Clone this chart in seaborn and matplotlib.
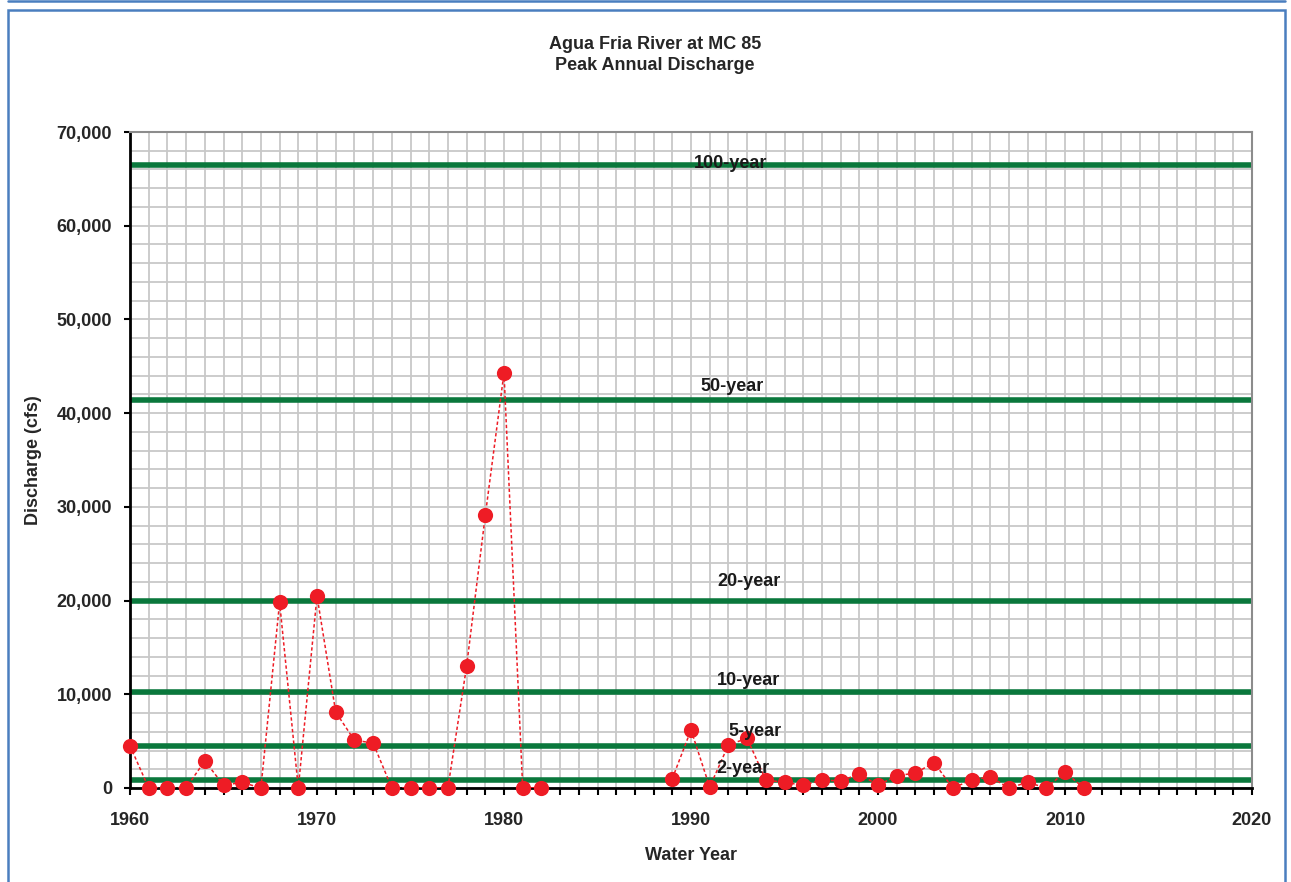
import numpy as np
import pandas as pd
import matplotlib
matplotlib.use("Agg")
import matplotlib.pyplot as plt
import matplotlib.ticker as mticker
from matplotlib.patches import Rectangle
from matplotlib.lines import Line2D
import seaborn as sns

# peak annual discharge (cfs), NaN = no record
years = list(range(1960, 2012))
discharge = [4500, 0, 0, 0, 2900, 300, 600, 0, 19800, 0,
             20500, 8100, 5100, 4800, 0, 0, 0, 0, 13000, 29100,
             44300, 0, 0, np.nan, np.nan, np.nan, np.nan, np.nan, np.nan, 1000,
             6200, 100, 4600, 5300, 850, 600, 300, 850, 750, 1500,
             300, 1300, 1600, 2700, 0, 850, 1200, 0, 600, 0,
             1700, 0]

# flood frequency estimates
return_labels = ["100-year", "50-year", "20-year", "10-year", "5-year", "2-year"]
return_q = [66500, 41400, 20000, 10250, 4500, 850]

df = pd.DataFrame({"year": years, "q": discharge})
df["segment"] = df["q"].isna().cumsum()
df = df.dropna()

sns.set_style("white")
plt.rcParams["font.family"] = ["Liberation Sans", "DejaVu Sans"]
plt.rcParams["font.weight"] = "bold"

fig = plt.figure(figsize=(12.91, 8.82), dpi=100)
ax = fig.add_axes([130 / 1291, 1 - 788 / 882, 1122 / 1291, 656 / 882])

red = "#ee1c25"
green = "#0a783c"

for q in return_q:
    ax.axhline(q, color=green, lw=4, zorder=2)

sns.lineplot(data=df, x="year", y="q", units="segment", estimator=None,
             color=red, lw=1.1, linestyle=(0, (2.2, 1.6)), ax=ax, zorder=3,
             legend=False)
sns.scatterplot(data=df, x="year", y="q", color=red, s=120, edgecolor=red,
                linewidth=0, ax=ax, zorder=4, clip_on=False, legend=False)

# return period labels
lab_x = [1992.1, 1992.2, 1993.1, 1993.1, 1993.4, 1992.8]
lab_dy = [1, 10, 14, 8, 10, 8]
for lab, q, x, dy in zip(return_labels, return_q, lab_x, lab_dy):
    ax.annotate(lab, xy=(x, q), xytext=(0, dy), textcoords="offset points",
                ha="center", va="center", fontsize=13, fontweight="bold",
                color="#1a1a1a", zorder=5)

ax.set_xlim(1960, 2020)
ax.set_ylim(0, 70000)
ax.xaxis.set_major_locator(mticker.MultipleLocator(10))
ax.xaxis.set_minor_locator(mticker.MultipleLocator(1))
ax.yaxis.set_major_locator(mticker.MultipleLocator(10000))
ax.yaxis.set_minor_locator(mticker.MultipleLocator(2000))
ax.yaxis.set_major_formatter(mticker.FuncFormatter(lambda v, p: f"{int(v):,}"))

ax.grid(True, which="both", color="#c8c8c8", lw=1.3, zorder=0)
ax.set_axisbelow(True)

ax.tick_params(axis="x", which="major", direction="out", length=5, width=1.5,
               pad=12, labelsize=13, bottom=True, color="black")
ax.tick_params(axis="x", which="minor", direction="out", length=5, width=1.5,
               bottom=True, color="black")
ax.tick_params(axis="y", which="major", direction="out", length=4, width=1.5,
               pad=9, labelsize=13, left=True, color="black")
ax.tick_params(axis="y", which="minor", left=False)
for t in ax.get_xticklabels() + ax.get_yticklabels():
    t.set_fontweight("bold")

for s in ["left", "bottom"]:
    ax.spines[s].set_color("black")
    ax.spines[s].set_linewidth(2)
for s in ["top", "right"]:
    ax.spines[s].set_color("#8c8c8c")
    ax.spines[s].set_linewidth(1.5)

ax.set_xlabel("Water Year", fontsize=13, fontweight="bold")
ax.set_ylabel("Discharge (cfs)", fontsize=13, fontweight="bold")
ax.xaxis.set_label_coords(0.5, -0.09)
ax.yaxis.set_label_coords(-0.078, 0.5)

fig.text(655 / 1291, 1 - 55 / 882, "Agua Fria River at MC 85\nPeak Annual Discharge",
         ha="center", va="center", fontsize=13, fontweight="bold",
         linespacing=1.25)

# chart frame
blue = "#4a7ebf"
fig.patches.append(Rectangle((8 / 1291, -0.01), 1277 / 1291, 1 - 10 / 882 + 0.01,
                             transform=fig.transFigure, fill=False,
                             edgecolor=blue, lw=1.8))
fig.lines.append(Line2D([8 / 1291, 1285 / 1291], [1 - 1 / 882, 1 - 1 / 882],
                        transform=fig.transFigure, color=blue, lw=1.8))

fig.savefig("out.png", dpi=100)
